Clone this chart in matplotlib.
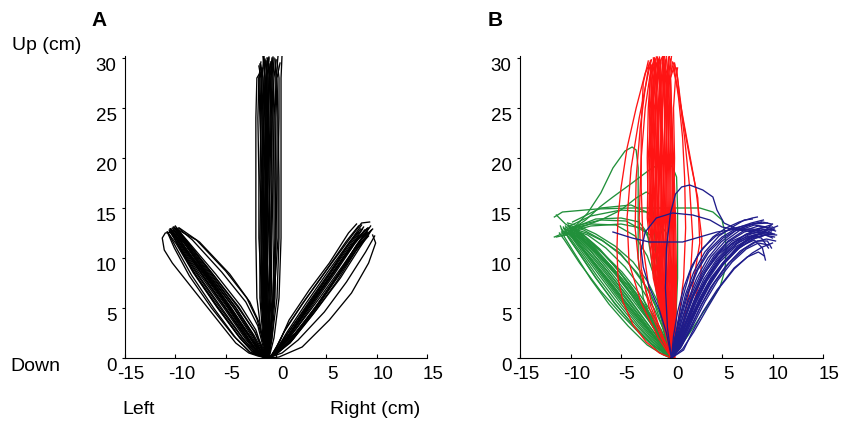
import matplotlib
matplotlib.use("Agg")
import matplotlib.pyplot as plt
from matplotlib.transforms import ScaledTranslation

plt.rcParams["font.family"] = ["Liberation Sans", "DejaVu Sans"]
plt.rcParams["axes.unicode_minus"] = False

# hand trajectories in cm, (x, y) waypoints
x_ticks = [-15, -10, -5, 0, 5, 10, 15]
y_ticks = [0, 5, 10, 15, 20, 25, 30]

# --- panel A: all reaches in black ---
up_levels = [0, 2, 6, 12, 18, 24, 28]
up_a_x = [
    [-0.9, -1.0, -1.1, -1.0, -0.9, -0.8, -0.8, -0.7],
    [-0.8, -0.7, -0.5, -0.4, -0.3, -0.3, -0.4, -0.5],
    [-0.9, -1.2, -1.4, -1.5, -1.4, -1.3, -1.2, -1.1],
    [-0.8, -0.6, -0.2, 0.0, 0.1, 0.1, 0.0, 0.2],
    [-0.9, -1.1, -1.3, -1.2, -1.0, -1.1, -1.3, -1.5],
    [-0.8, -0.8, -0.7, -0.6, -0.7, -0.6, -0.5, -0.3],
    [-0.9, -1.3, -1.6, -1.6, -1.5, -1.5, -1.6, -1.4],
    [-0.7, -0.4, 0.1, 0.3, 0.3, 0.2, 0.1, 0.4],
    [-0.9, -1.0, -0.9, -0.8, -0.6, -0.5, -0.6, -0.9],
    [-0.8, -0.9, -1.0, -1.1, -1.2, -1.0, -0.9, -1.0],
    [-0.9, -1.4, -1.9, -2.0, -2.0, -2.0, -1.9, -1.6],
    [-0.7, -0.2, 0.3, 0.5, 0.5, 0.5, 0.5, 0.6],
    [-0.8, -0.7, -0.8, -0.9, -0.8, -0.7, -0.7, -0.6],
    [-0.9, -1.1, -1.2, -1.3, -1.2, -1.2, -1.1, -1.2],
    [-0.8, -0.5, -0.3, -0.2, -0.2, -0.3, -0.2, 0.0],
    [-0.9, -1.2, -1.5, -1.4, -1.3, -1.4, -1.5, -1.7],
    [-0.8, -0.9, -0.6, -0.5, -0.5, -0.4, -0.6, -0.8],
    [-0.9, -1.0, -1.2, -1.0, -1.1, -0.9, -1.0, -0.8],
    [-0.8, -0.6, -0.4, -0.6, -0.7, -0.8, -0.7, -0.5],
    [-0.9, -1.2, -1.3, -1.2, -1.4, -1.6, -1.7, -1.3],
    [-0.8, -0.4, -0.1, 0.0, -0.1, -0.1, 0.0, -0.1],
    [-0.9, -0.8, -1.0, -0.9, -0.9, -1.0, -1.1, -1.3],
    [-0.8, -0.9, -1.1, -1.3, -1.3, -1.2, -1.0, -0.9],
    [-0.9, -0.7, -0.6, -0.7, -0.9, -1.0, -0.9, -0.7],
    [-0.8, -1.0, -1.3, -1.4, -1.6, -1.5, -1.4, -1.6],
    [-0.9, -0.6, -0.3, -0.1, 0.0, -0.1, -0.3, -0.2],
    [-0.8, -1.1, -1.2, -1.1, -0.9, -0.8, -0.9, -1.1],
    [-0.9, -0.8, -0.8, -0.5, -0.4, -0.5, -0.4, -0.3],
    [-0.8, -1.2, -1.4, -1.7, -1.7, -1.8, -1.7, -1.5],
    [-0.7, -0.5, -0.2, 0.2, 0.2, 0.3, 0.3, 0.1],
    [-0.9, -1.0, -1.0, -0.9, -1.0, -1.3, -1.4, -1.2],
    [-0.8, -0.7, -0.9, -1.1, -1.0, -0.8, -0.6, -0.4],
]
up_a_top = [30.0, 29.6, 29.8, 30.2, 29.3, 30.1, 28.9, 29.5, 30.0, 29.7, 28.5,
            30.3, 29.4, 30.1, 29.8, 29.2, 29.9, 30.0, 29.6, 29.0, 29.9, 30.2,
            29.7, 30.1, 29.4, 30.0, 29.9, 29.5, 29.6, 29.8, 30.2, 30.0]

left_a = [
    [(-0.9, 0), (-1.8, 0.6), (-2.8, 2.0), (-4.8, 5.0), (-7.2, 8.4), (-9.3, 11.4), (-10.4, 12.9)],
    [(-0.8, 0), (-1.5, 0.8), (-2.3, 2.2), (-4.0, 4.8), (-6.6, 8.3), (-9.0, 11.6), (-10.0, 12.9)],
    [(-0.9, 0), (-2.0, 0.5), (-3.2, 1.8), (-5.4, 4.8), (-7.8, 8.3), (-9.6, 11.2), (-10.6, 12.7)],
    [(-0.8, 0), (-1.4, 1.0), (-2.0, 2.8), (-3.5, 5.2), (-6.0, 8.4), (-8.7, 11.6), (-9.9, 13.0)],
    [(-1.0, 0), (-2.3, 0.6), (-3.6, 2.0), (-5.8, 5.0), (-8.2, 8.5), (-9.9, 11.4), (-10.8, 12.6)],
    [(-0.8, 0), (-1.3, 1.2), (-1.8, 3.2), (-3.0, 5.6), (-5.4, 8.6), (-8.3, 11.8), (-9.7, 13.0)],
    [(-0.9, 0), (-1.7, 0.7), (-2.6, 2.2), (-4.4, 4.9), (-6.9, 8.4), (-9.1, 11.5), (-10.2, 12.8)],
    [(-0.8, 0), (-1.6, 0.9), (-2.4, 2.5), (-4.1, 5.2), (-6.5, 8.5), (-8.9, 11.7), (-10.1, 13.1)],
    [(-1.0, 0), (-2.1, 0.6), (-3.3, 2.0), (-5.2, 4.7), (-7.5, 8.0), (-9.5, 11.2), (-10.5, 12.9)],
    [(-0.8, 0), (-1.2, 1.4), (-1.9, 3.9), (-2.9, 6.0), (-5.0, 8.7), (-7.9, 11.8), (-9.9, 12.9)],
    [(-1.0, 0), (-2.5, 0.5), (-4.0, 2.0), (-6.2, 5.0), (-8.4, 8.3), (-9.9, 11.0), (-10.7, 12.5)],
    [(-0.9, 0), (-1.9, 0.7), (-3.0, 2.1), (-5.0, 5.0), (-7.4, 8.5), (-9.4, 11.6), (-10.3, 12.6)],
    [(-0.8, 0), (-1.5, 0.7), (-2.5, 2.0), (-4.6, 5.0), (-7.0, 8.2), (-9.0, 11.0), (-10.0, 12.6)],
    [(-0.9, 0), (-1.8, 0.2), (-2.7, 0.5), (-4.0, 1.5), (-7.0, 5.3), (-10.3, 9.5),
     (-11.1, 10.8), (-11.3, 12.0), (-11.0, 12.5), (-10.3, 12.6)],
    [(-0.8, 0), (-1.4, 0.9), (-2.1, 2.6), (-3.7, 5.1), (-6.2, 8.3), (-8.6, 11.3), (-9.8, 12.7)],
    [(-0.9, 0), (-2.0, 0.8), (-3.0, 2.4), (-4.9, 5.3), (-7.1, 8.6), (-9.2, 11.8), (-10.2, 13.1)],
    [(-0.9, 0), (-1.7, 0.5), (-2.7, 1.7), (-4.7, 4.6), (-7.1, 8.0), (-9.2, 11.1), (-10.4, 12.6)],
    [(-0.8, 0), (-1.5, 0.6), (-2.4, 1.9), (-4.3, 4.6), (-6.8, 8.1), (-9.0, 11.3), (-10.1, 12.7)],
    [(-0.9, 0), (-1.9, 0.6), (-2.9, 1.9), (-4.9, 4.8), (-7.3, 8.2), (-9.4, 11.3), (-10.5, 12.9)],
    [(-0.8, 0), (-1.3, 1.0), (-2.1, 2.6), (-3.8, 5.1), (-6.3, 8.4), (-8.8, 11.6), (-10.0, 13.2)],
    [(-1.0, 0), (-2.2, 0.5), (-3.4, 1.8), (-5.5, 4.7), (-7.9, 8.2), (-9.7, 11.3), (-10.6, 12.8)],
    [(-0.8, 0), (-1.6, 0.8), (-2.5, 2.3), (-4.2, 5.0), (-6.7, 8.3), (-9.0, 11.4), (-10.2, 12.9)],
    [(-0.9, 0), (-1.8, 0.8), (-2.7, 2.3), (-4.5, 5.1), (-6.9, 8.5), (-9.1, 11.6), (-10.3, 13.0)],
    [(-0.9, 0), (-2.0, 0.6), (-3.1, 2.0), (-5.1, 4.9), (-7.6, 8.4), (-9.6, 11.5), (-10.4, 12.8)],
    [(-0.8, 0), (-1.4, 0.8), (-2.2, 2.3), (-3.9, 4.9), (-6.4, 8.2), (-8.8, 11.4), (-9.9, 12.8)],
    [(-0.9, 0), (-1.7, 0.6), (-2.6, 2.0), (-4.5, 4.8), (-7.0, 8.3), (-9.2, 11.3), (-10.3, 12.7)],
    [(-1.0, 0), (-2.6, 0.6), (-4.2, 2.2), (-6.4, 5.0), (-8.6, 8.2), (-10.1, 11.0), (-10.8, 12.6)],
    [(-0.8, 0), (-1.2, 1.6), (-1.7, 3.6), (-2.6, 5.6), (-4.6, 8.4), (-7.6, 11.6), (-9.6, 13.0)],
    [(-0.9, 0), (-2.4, 0.7), (-3.8, 2.3), (-6.0, 5.3), (-8.2, 8.6), (-9.8, 11.4), (-10.5, 12.9)],
]

right_a = [
    [(-0.7, 0), (0.0, 0.6), (1.2, 2.0), (3.3, 5.0), (5.6, 8.3), (7.6, 11.2), (8.8, 12.8)],
    [(-0.6, 0), (0.3, 0.9), (1.5, 2.6), (3.6, 5.6), (5.8, 8.8), (7.8, 11.6), (9.0, 12.6)],
    [(-0.7, 0), (0.1, 0.5), (1.6, 1.8), (4.0, 4.8), (6.4, 8.0), (8.3, 11.0), (9.3, 12.5)],
    [(-0.6, 0), (0.0, 1.0), (0.8, 2.6), (2.6, 5.4), (4.8, 8.5), (7.0, 11.7), (8.2, 13.2)],
    [(-0.8, 0), (0.6, 0.5), (2.2, 1.8), (4.8, 4.6), (7.0, 7.6), (8.9, 10.6), (9.8, 12.2)],
    [(-0.6, 0), (0.3, 1.5), (1.3, 3.8), (3.3, 6.8), (5.3, 9.5), (7.2, 12.5), (8.0, 13.4)],
    [(-0.7, 0), (0.3, 0.1), (2.6, 1.1), (5.3, 3.8), (7.5, 6.5), (9.2, 9.5), (9.9, 11.5), (9.6, 12.3)],
    [(-0.7, 0), (0.1, 0.7), (1.3, 2.3), (3.4, 5.3), (5.6, 8.4), (7.5, 11.2), (8.6, 12.9)],
    [(-0.6, 0), (0.2, 0.8), (1.9, 2.5), (4.2, 5.4), (6.3, 8.5), (8.0, 11.3), (9.2, 13.0)],
    [(-0.7, 0), (0.0, 0.4), (1.4, 1.5), (3.7, 4.4), (6.0, 7.6), (8.0, 10.8), (9.5, 12.8)],
    [(-0.6, 0), (0.1, 1.2), (1.0, 3.0), (2.9, 5.8), (5.1, 8.9), (7.3, 11.9), (8.5, 13.5), (9.3, 13.6)],
    [(-0.7, 0), (0.2, 0.6), (1.7, 2.0), (3.9, 5.0), (6.1, 8.2), (7.9, 11.0), (9.0, 12.2)],
    [(-0.6, 0), (0.4, 1.0), (2.0, 2.9), (4.4, 6.1), (6.6, 9.2), (8.4, 11.8), (9.6, 12.9)],
    [(-0.7, 0), (0.0, 0.8), (1.1, 2.4), (3.1, 5.2), (5.3, 8.4), (7.2, 11.3), (8.2, 12.6)],
    [(-0.7, 0), (0.1, 0.6), (1.4, 2.1), (3.5, 5.1), (5.8, 8.4), (7.8, 11.4), (9.0, 12.9)],
    [(-0.6, 0), (0.2, 0.8), (1.3, 2.4), (3.3, 5.4), (5.5, 8.6), (7.5, 11.5), (8.7, 13.1)],
    [(-0.7, 0), (0.2, 0.5), (1.7, 1.9), (4.0, 5.0), (6.2, 8.2), (8.1, 11.0), (9.2, 12.2)],
    [(-0.6, 0), (0.1, 0.9), (1.1, 2.6), (3.0, 5.5), (5.2, 8.7), (7.3, 11.6), (8.4, 12.9)],
    [(-0.7, 0), (0.3, 0.7), (1.8, 2.2), (4.1, 5.2), (6.3, 8.4), (8.2, 11.2), (9.4, 12.7)],
    [(-0.7, 0), (0.0, 0.7), (1.2, 2.2), (3.2, 5.1), (5.5, 8.3), (7.5, 11.3), (8.6, 12.5)],
    [(-0.6, 0), (0.4, 0.8), (1.9, 2.4), (4.2, 5.5), (6.4, 8.7), (8.3, 11.6), (9.4, 13.2)],
    [(-0.7, 0), (0.1, 0.8), (1.2, 2.5), (3.2, 5.5), (5.4, 8.7), (7.4, 11.7), (8.5, 13.3)],
    [(-0.6, 0), (0.2, 0.6), (1.6, 2.0), (3.8, 4.9), (6.0, 8.1), (7.9, 11.1), (9.1, 12.6)],
    [(-0.7, 0), (0.3, 1.0), (1.6, 2.8), (3.7, 5.8), (5.9, 8.9), (7.9, 11.8), (9.1, 13.0)],
]

# --- panel B: up (red), left (green), right (blue) ---
red_levels = [0, 3, 8, 14, 20, 25, 28]
red_core_x = [
    [0.0, -0.5, -1.2, -1.6, -1.5, -1.3, -1.2, -1.0],
    [0.1, -0.3, -0.8, -1.0, -1.0, -0.9, -0.8, -0.6],
    [0.2, 0.0, -0.3, -0.4, -0.5, -0.5, -0.4, -0.2],
    [0.0, -0.6, -1.6, -2.1, -2.0, -1.8, -1.6, -1.5],
    [0.2, 0.2, 0.1, 0.0, -0.1, -0.2, -0.3, -0.1],
    [0.1, -0.4, -1.0, -1.3, -1.3, -1.2, -1.1, -1.2],
    [0.0, -0.7, -1.8, -2.4, -2.3, -2.0, -1.8, -1.9],
    [0.3, 0.4, 0.5, 0.4, 0.2, 0.0, -0.1, 0.1],
    [0.1, -0.2, -0.6, -0.8, -0.7, -0.7, -0.8, -0.9],
    [0.0, -0.5, -1.4, -1.9, -1.7, -1.5, -1.4, -1.3],
    [0.2, 0.1, -0.1, -0.2, -0.3, -0.3, -0.5, -0.6],
    [0.1, -0.3, -0.9, -1.1, -1.2, -1.4, -1.6, -1.8],
    [0.0, -0.6, -1.3, -1.7, -1.9, -1.7, -1.3, -1.1],
    [0.2, 0.3, 0.3, 0.2, 0.0, -0.2, -0.4, -0.3],
    [0.1, -0.4, -1.1, -1.4, -1.5, -1.6, -1.4, -1.2],
    [0.0, -0.2, -0.5, -0.6, -0.9, -1.1, -1.2, -1.4],
    [0.2, 0.0, -0.4, -0.7, -0.8, -1.0, -0.9, -0.7],
    [0.1, -0.5, -1.5, -2.0, -2.2, -2.1, -1.9, -1.7],
    [0.3, 0.3, 0.2, 0.2, 0.3, 0.2, 0.4, 0.6],
    [0.0, -0.3, -0.7, -0.9, -0.8, -0.6, -0.5, -0.8],
    [0.1, -0.6, -1.7, -2.2, -2.1, -1.9, -1.7, -1.6],
    [0.2, -0.1, -0.5, -1.0, -1.1, -1.0, -1.1, -1.4],
    [0.0, -0.4, -1.2, -1.8, -2.0, -2.2, -2.1, -2.0],
    [0.3, 0.1, 0.0, -0.3, -0.4, -0.6, -0.7, -0.4],
    [0.1, -0.4, -1.3, -1.6, -1.8, -1.6, -1.5, -1.3],
    [0.2, 0.0, -0.2, -0.1, -0.2, -0.4, -0.6, -0.8],
    [0.0, -0.6, -1.5, -2.3, -2.4, -2.3, -2.1, -1.8],
    [0.1, -0.2, -0.8, -1.2, -1.4, -1.3, -1.0, -0.8],
    [0.3, 0.2, 0.0, 0.1, 0.1, 0.0, -0.1, 0.3],
    [0.0, -0.5, -1.1, -1.5, -1.6, -1.8, -1.7, -1.5],
    [0.2, -0.2, -0.6, -0.9, -1.0, -1.1, -1.0, -1.1],
    [0.1, -0.3, -1.0, -1.4, -1.1, -0.9, -0.7, -0.5],
    [0.0, -0.7, -1.6, -2.0, -1.9, -2.0, -2.0, -2.1],
    [0.2, 0.1, -0.2, -0.5, -0.6, -0.7, -0.7, -0.9],
    [0.1, -0.4, -1.2, -1.7, -1.5, -1.4, -1.5, -1.7],
    [0.3, 0.4, 0.4, 0.3, 0.1, -0.1, -0.2, 0.0],
    [0.0, -0.3, -0.9, -1.3, -1.6, -1.9, -1.8, -1.4],
    [0.2, -0.1, -0.4, -0.6, -0.5, -0.4, -0.3, -0.5],
]
red_core_top = [30.0, 29.8, 30.2, 29.5, 29.9, 30.1, 29.2, 29.6, 30.3, 29.8, 29.7, 30.0,
                29.4, 30.1, 28.8, 29.9, 30.2, 29.6, 29.0, 29.5, 29.9, 30.1, 29.3, 28.9,
                29.9, 30.2, 29.4, 30.0, 29.3, 30.1, 29.8, 30.3, 29.7, 29.5, 30.0, 30.2,
                29.6, 29.9]

red_wide = [
    [(0, 0), (-1.2, 0.5), (-2.5, 1.6), (-3.8, 3.3), (-4.8, 5.6), (-5.3, 8.0), (-5.4, 11.0),
     (-5.3, 14.0), (-5.0, 17.0), (-4.4, 21.0), (-3.5, 25.0), (-2.6, 28.5), (-2.0, 29.8)],
    [(0, 0), (-1.0, 2.0), (-2.2, 5.0), (-3.0, 9.0), (-3.2, 14.0), (-3.0, 20.0), (-2.6, 25.0),
     (-2.1, 28.5), (-1.7, 30.0)],
    [(0.1, 0), (-0.8, 2.0), (-2.0, 5.0), (-3.2, 9.0), (-3.6, 13.0), (-3.5, 18.0), (-3.1, 23.0),
     (-2.6, 27.0), (-2.2, 29.5)],
    [(0, 0), (-1.3, 2.0), (-3.0, 5.5), (-4.2, 9.5), (-4.4, 14.0), (-4.0, 19.0), (-3.2, 24.0),
     (-2.4, 28.0), (-2.0, 29.8)],
    [(0, 0), (-0.9, 2.0), (-2.1, 6.0), (-2.8, 11.0), (-3.0, 17.0), (-3.0, 23.0), (-2.8, 27.5),
     (-2.3, 29.7)],
    [(0.2, 0), (1.0, 2.5), (1.8, 7.0), (2.1, 12.0), (1.8, 17.0), (1.3, 22.0), (0.8, 26.0), (0.5, 29.0)],
    [(0.2, 0), (0.6, 3.0), (1.2, 8.0), (1.4, 13.0), (1.3, 18.0), (1.1, 22.0), (0.7, 26.0), (0.2, 29.5)],
    [(0, 0), (0.8, 2.0), (1.9, 6.0), (2.8, 11.5), (2.6, 16.0), (1.8, 20.0), (1.1, 24.0),
     (0.6, 28.0), (0.3, 29.5)],
    [(0.2, 0), (1.5, 3.0), (2.9, 8.0), (3.0, 12.0), (2.4, 17.0), (1.5, 22.0), (0.6, 27.0), (0.1, 29.2)],
]

green = [
    [(0, 0), (-0.3, 0.1), (-1.2, 0.6), (-3.2, 2.5), (-5.1, 4.5), (-7.1, 6.8), (-9.1, 9.5), (-10.6, 11.8), (-11.1, 12.5)],
    [(0, 0), (-0.3, 1.0), (-0.9, 3.1), (-1.6, 5.2), (-2.5, 7.1), (-3.8, 8.9), (-5.1, 10.5), (-6.8, 11.7), (-8.4, 12.5), (-9.6, 12.9)],
    [(0, 0), (-0.5, 0.6), (-1.5, 1.8), (-2.9, 3.6), (-4.5, 5.6), (-6.2, 7.8), (-8.0, 10.0), (-9.6, 11.9), (-10.4, 12.6)],
    [(0, 0), (-0.4, 0.8), (-1.3, 2.3), (-2.5, 4.2), (-3.9, 6.2), (-5.6, 8.4), (-7.4, 10.4), (-9.0, 12.0), (-10.0, 12.8)],
    [(0, 0), (-0.6, 0.5), (-1.8, 1.6), (-3.4, 3.4), (-5.0, 5.4), (-6.8, 7.8), (-8.5, 10.1), (-9.9, 12.1), (-10.7, 13.0)],
    [(0, 0), (-0.3, 1.2), (-1.0, 2.8), (-2.0, 4.6), (-3.3, 6.6), (-4.9, 8.6), (-6.7, 10.4), (-8.4, 11.8), (-9.8, 12.6)],
    [(0, 0), (-0.5, 0.7), (-1.6, 2.0), (-3.0, 3.9), (-4.6, 6.0), (-6.4, 8.3), (-8.2, 10.5), (-9.7, 12.2), (-10.2, 13.3)],
    [(0, 0), (-0.4, 0.9), (-1.2, 2.5), (-2.3, 4.5), (-3.7, 6.6), (-5.3, 8.8), (-7.1, 10.9), (-8.8, 12.4), (-10.1, 13.1)],
    [(0, 0), (-0.7, 0.4), (-2.1, 1.5), (-3.9, 3.4), (-5.7, 5.6), (-7.5, 8.0), (-9.1, 10.4), (-10.3, 12.2), (-10.9, 12.9)],
    [(0, 0), (-0.2, 1.5), (-0.7, 3.6), (-1.4, 5.7), (-2.4, 7.7), (-3.8, 9.6), (-5.6, 11.2), (-7.5, 12.4), (-9.2, 13.2), (-10.3, 13.5)],
    [(0, 0), (-0.5, 1.0), (-1.5, 2.6), (-2.8, 4.6), (-4.3, 6.8), (-6.0, 9.0), (-7.8, 11.0), (-9.3, 12.4), (-10.6, 12.9)],
    [(0, 0), (-0.6, 0.6), (-1.9, 1.9), (-3.6, 3.9), (-5.4, 6.2), (-7.2, 8.6), (-8.9, 10.9), (-10.1, 12.4), (-11.4, 12.1)],
    [(0, 0), (-0.3, 0.9), (-1.1, 2.2), (-2.2, 4.0), (-3.6, 6.0), (-5.3, 8.2), (-7.1, 10.2), (-8.9, 11.9), (-10.4, 12.6), (-11.6, 12.1)],
    [(0, 0), (-0.4, 1.3), (-1.3, 3.0), (-2.6, 5.1), (-4.1, 7.3), (-5.9, 9.5), (-7.7, 11.4), (-9.3, 12.7), (-10.5, 13.4), (-11.4, 14.3)],
    [(0, 0), (-0.6, 0.9), (-1.8, 2.4), (-3.3, 4.4), (-5.0, 6.7), (-6.8, 9.0), (-8.5, 11.0), (-9.9, 12.5), (-10.8, 12.2)],
    [(0, 0), (-0.2, 1.0), (-0.6, 2.6), (-1.2, 4.5), (-2.1, 6.5), (-3.4, 8.5), (-5.0, 10.3), (-6.9, 11.8), (-8.7, 12.8), (-9.9, 13.2)],
    [(0, 0), (-0.8, 0.3), (-2.4, 1.3), (-4.3, 3.2), (-6.2, 5.4), (-8.0, 7.9), (-9.5, 10.3), (-10.6, 12.1), (-11.0, 13.2)],
    [(0, 0), (-0.5, 1.1), (-1.4, 2.9), (-2.7, 5.0), (-4.2, 7.1), (-6.0, 9.2), (-7.9, 11.1), (-9.5, 12.5), (-10.3, 12.3)],
    [(0, 0), (-0.5, 0.8), (-1.5, 2.2), (-2.9, 4.1), (-4.5, 6.3), (-6.3, 8.6), (-8.1, 10.8), (-9.6, 12.3), (-10.5, 12.9)],
    [(0, 0), (-0.4, 0.6), (-1.4, 1.8), (-3.0, 3.7), (-4.8, 5.9), (-6.6, 8.2), (-8.4, 10.5), (-9.8, 12.2), (-10.6, 12.6)],
    [(0, 0), (-0.3, 1.1), (-1.0, 2.6), (-2.1, 4.4), (-3.5, 6.5), (-5.2, 8.7), (-7.0, 10.7), (-8.7, 12.2), (-9.9, 12.9)],
    [(0, 0), (-0.6, 0.7), (-1.7, 2.0), (-3.2, 3.8), (-4.9, 5.9), (-6.7, 8.2), (-8.5, 10.5), (-9.9, 12.3), (-10.8, 12.7)],
    [(0, 0), (-0.4, 1.0), (-1.2, 2.4), (-2.4, 4.3), (-3.9, 6.4), (-5.6, 8.6), (-7.4, 10.7), (-9.0, 12.3), (-10.2, 13.0)],
    [(0, 0), (-0.7, 0.5), (-2.0, 1.7), (-3.7, 3.5), (-5.5, 5.7), (-7.3, 8.1), (-8.9, 10.4), (-10.1, 12.1), (-10.9, 12.6)],
    [(0, 0), (-0.3, 0.8), (-1.1, 2.1), (-2.4, 3.9), (-4.0, 6.0), (-5.8, 8.3), (-7.6, 10.5), (-9.2, 12.1), (-10.4, 12.8)],
    [(0, 0), (-0.5, 1.2), (-1.4, 2.8), (-2.6, 4.7), (-4.0, 6.8), (-5.7, 8.9), (-7.5, 10.9), (-9.1, 12.4), (-10.1, 13.2)],
    [(0, 0), (-0.6, 0.4), (-1.9, 1.4), (-3.7, 3.2), (-5.6, 5.4), (-7.4, 7.9), (-9.0, 10.3), (-10.2, 12.0), (-10.7, 13.1)],
    [(0, 0), (-0.4, 0.7), (-1.3, 2.0), (-2.7, 3.9), (-4.3, 6.1), (-6.1, 8.4), (-7.9, 10.6), (-9.4, 12.2), (-10.3, 12.5)],
    [(0, 0), (-0.2, 1.2), (-0.8, 2.9), (-1.7, 4.9), (-3.0, 7.0), (-4.6, 9.1), (-6.5, 11.0), (-8.3, 12.3), (-9.7, 12.8)],
    [(0, 0), (-0.5, 0.5), (-1.6, 1.7), (-3.1, 3.5), (-4.8, 5.6), (-6.6, 8.0), (-8.3, 10.3), (-9.7, 12.1), (-10.5, 13.2)],
    [(0, 0), (-0.3, 3.0), (-0.8, 7.0), (-1.5, 10.5), (-2.6, 12.6), (-4.5, 13.7), (-7.0, 13.8), (-9.5, 13.2)],
    [(0, 0), (-0.5, 3.0), (-1.3, 7.0), (-2.4, 10.2), (-3.6, 12.2), (-5.5, 13.3), (-8.0, 13.4), (-10.2, 12.9)],
    [(0, 0), (0.2, 4.0), (0.1, 9.0), (-0.5, 12.5), (-1.8, 14.3), (-4.0, 15.3), (-7.0, 15.0), (-9.8, 13.6)],
    # reaches that wandered before settling on the left target
    [(0, 0), (-1.5, 2.5), (-2.8, 6.0), (-3.3, 10.0), (-3.3, 15.0), (-3.3, 19.0), (-3.5, 20.8), (-3.9, 21.1),
     (-4.6, 20.7), (-5.8, 19.0), (-7.0, 16.5), (-8.3, 14.5), (-9.5, 13.2), (-10.2, 12.7)],
    [(0, 0), (0.4, 3.0), (0.6, 8.0), (0.6, 12.0), (0.6, 15.0), (0.5, 18.1), (0.1, 19.1), (-0.5, 19.6),
     (-1.2, 19.4), (-2.2, 18.8), (-3.9, 17.5), (-5.8, 16.1), (-7.1, 15.1), (-8.5, 13.8), (-9.8, 12.9)],
    [(0, 0), (-0.6, 3.0), (-1.2, 7.0), (-1.6, 11.0), (-1.8, 14.5), (-2.0, 16.3), (-2.5, 16.6), (-3.5, 16.0),
     (-5.0, 14.8), (-6.8, 13.9), (-8.6, 13.2), (-10.0, 12.8)],
    [(0, 0), (0.8, 1.1), (1.6, 2.2), (3.1, 4.5), (4.8, 7.1), (5.3, 8.8), (5.4, 10.8), (5.3, 12.5), (5.0, 13.8),
     (4.1, 14.6), (2.8, 15.0), (0.5, 15.0), (-2.2, 15.0), (-4.0, 15.0), (-7.4, 14.9), (-10.8, 14.6), (-11.6, 14.1)],
    [(0, 0), (-0.2, 3.0), (-0.4, 7.0), (-0.6, 11.0), (-1.2, 13.5), (-2.5, 14.6), (-5.0, 14.8), (-8.0, 14.2), (-10.5, 13.0)],
    [(0, 0), (-0.3, 2.0), (-0.8, 6.0), (-1.3, 10.0), (-2.0, 12.2), (-3.0, 13.0), (-5.0, 13.4), (-8.0, 13.2), (-10.8, 12.4)],
    [(0, 0), (-0.6, 2.0), (-1.4, 6.0), (-2.0, 10.0), (-2.4, 12.5), (-3.2, 13.6), (-5.0, 14.0), (-7.5, 13.9), (-9.8, 13.0)],
]

blue = [
    [(0, 0), (0.3, 1.5), (0.6, 3.5), (1.1, 6.0), (1.8, 8.5), (2.6, 10.3), (4.1, 12.1), (5.4, 13.0), (6.7, 13.6), (8.0, 14.0), (8.5, 14.1)],
    [(0, 0), (1.2, 0.8), (2.0, 2.5), (3.1, 4.6), (4.5, 6.8), (6.2, 9.0), (8.0, 10.5), (9.0, 11.1), (10.0, 11.5)],
    [(0, 0), (0.5, 1.5), (1.2, 3.5), (2.0, 5.8), (3.0, 8.0), (4.2, 10.0), (5.6, 11.6), (7.2, 12.6), (8.8, 13.0), (10.0, 13.1)],
    [(0, 0), (0.7, 1.2), (1.5, 3.2), (2.4, 5.5), (3.5, 7.7), (4.8, 9.6), (6.3, 11.1), (7.8, 12.0), (9.2, 12.3), (10.2, 12.1)],
    [(0, 0), (0.4, 1.8), (1.0, 4.2), (1.7, 6.6), (2.6, 8.8), (3.7, 10.6), (5.1, 12.0), (6.6, 12.9), (8.1, 13.4), (9.5, 13.5)],
    [(0, 0), (0.9, 1.0), (1.8, 2.8), (2.8, 5.0), (3.9, 7.1), (5.3, 9.1), (6.8, 10.7), (8.2, 11.6), (9.4, 11.9), (10.3, 11.7)],
    [(0, 0), (0.6, 1.6), (1.3, 3.8), (2.2, 6.2), (3.3, 8.5), (4.6, 10.4), (6.0, 11.7), (7.6, 12.4), (9.0, 12.6), (10.5, 13.2)],
    [(0, 0), (0.8, 1.3), (1.7, 3.4), (2.7, 5.8), (3.9, 8.0), (5.3, 9.8), (6.9, 11.2), (8.2, 11.8), (9.0, 11.0), (9.3, 9.8)],
    [(0, 0), (0.5, 1.2), (1.2, 3.0), (2.1, 5.3), (3.2, 7.6), (4.5, 9.7), (5.9, 11.3), (7.3, 12.3), (8.6, 12.9), (9.8, 13.3)],
    [(0, 0), (1.0, 1.2), (2.1, 3.2), (3.3, 5.6), (4.6, 7.8), (6.0, 9.6), (7.4, 10.9), (8.6, 11.5), (9.6, 11.3)],
    [(0, 0), (0.4, 1.4), (0.9, 3.4), (1.6, 5.7), (2.5, 8.0), (3.6, 10.0), (4.9, 11.6), (6.3, 12.7), (7.7, 13.3), (9.0, 13.6), (9.9, 13.4)],
    [(0, 0), (0.7, 1.0), (1.6, 2.8), (2.6, 5.0), (3.8, 7.3), (5.1, 9.3), (6.6, 10.9), (8.0, 11.9), (9.0, 12.2), (9.9, 12.6)],
    [(0, 0), (0.6, 2.0), (1.4, 4.4), (2.3, 6.7), (3.4, 8.7), (4.7, 10.4), (6.2, 11.6), (7.7, 12.2), (8.9, 12.0), (9.6, 11.0)],
    [(0, 0), (0.3, 1.8), (0.8, 4.0), (1.4, 6.4), (2.2, 8.6), (3.3, 10.6), (4.7, 12.2), (6.2, 13.2), (7.2, 13.8), (8.0, 13.9)],
    [(0, 0), (0.9, 1.5), (1.9, 3.7), (3.0, 6.0), (4.2, 8.2), (5.6, 10.1), (7.1, 11.5), (8.5, 12.3), (9.7, 12.9), (10.3, 12.7)],
    [(0, 0), (0.5, 1.0), (1.3, 2.6), (2.3, 4.7), (3.5, 7.0), (4.9, 9.2), (6.4, 11.0), (7.8, 12.1), (9.1, 12.6), (10.2, 12.4)],
    [(0, 0), (0.2, 2.2), (0.6, 4.6), (1.2, 7.0), (2.0, 9.2), (3.1, 11.0), (4.4, 12.2), (5.9, 12.9), (7.5, 13.3), (8.9, 13.6)],
    [(0, 0), (1.1, 0.9), (2.2, 2.6), (3.5, 4.9), (4.8, 7.1), (6.2, 8.9), (7.5, 10.1), (8.6, 10.6), (9.2, 10.2)],
    [(0, 0), (0.6, 1.3), (1.4, 3.3), (2.3, 5.6), (3.4, 7.8), (4.7, 9.8), (6.1, 11.3), (7.6, 12.3), (9.0, 12.8), (10.1, 12.9)],
    [(0, 0), (0.5, 1.6), (1.2, 3.8), (2.0, 6.1), (3.0, 8.3), (4.2, 10.2), (5.6, 11.7), (7.1, 12.7), (8.6, 13.2), (9.6, 13.0)],
    [(0, 0), (0.8, 1.1), (1.7, 3.0), (2.7, 5.3), (3.8, 7.5), (5.2, 9.5), (6.7, 11.0), (8.1, 11.9), (9.3, 12.3), (10.0, 12.0)],
    [(0, 0), (0.4, 1.6), (1.0, 3.7), (1.8, 6.0), (2.8, 8.2), (3.9, 10.1), (5.3, 11.7), (6.8, 12.8), (8.2, 13.3), (9.4, 13.1)],
    [(0, 0), (0.7, 1.4), (1.5, 3.5), (2.5, 5.8), (3.6, 8.0), (4.9, 9.9), (6.4, 11.4), (7.9, 12.2), (9.1, 12.4), (10.4, 12.3)],
    [(0, 0), (0.6, 1.1), (1.4, 2.9), (2.4, 5.1), (3.6, 7.4), (5.0, 9.4), (6.5, 11.0), (7.9, 12.0), (9.2, 12.7), (10.0, 13.4)],
    [(0, 0), (0.3, 1.9), (0.9, 4.2), (1.6, 6.6), (2.5, 8.8), (3.6, 10.7), (5.0, 12.1), (6.5, 13.0), (7.9, 13.5), (9.1, 13.8)],
    [(0, 0), (0.9, 1.2), (1.9, 3.1), (3.0, 5.4), (4.3, 7.6), (5.7, 9.5), (7.2, 10.9), (8.5, 11.7), (9.5, 11.7), (9.9, 11.0)],
    [(0, 0), (0.5, 1.4), (1.3, 3.4), (2.2, 5.7), (3.2, 7.9), (4.5, 9.9), (5.9, 11.4), (7.4, 12.4), (8.8, 12.9), (9.7, 12.8)],
    [(0, 0), (0.7, 1.7), (1.6, 4.0), (2.6, 6.4), (3.8, 8.5), (5.2, 10.3), (6.7, 11.6), (8.1, 12.3), (9.3, 12.5), (10.2, 12.9)],
    # detours
    [(0, 0), (-0.4, 3.0), (-0.6, 7.0), (-0.5, 11.0), (-0.1, 14.5), (0.4, 16.4), (1.0, 17.1), (1.8, 17.3),
     (3.1, 16.8), (4.1, 16.1), (4.5, 14.8), (5.2, 13.5), (6.5, 12.9), (8.0, 12.9), (9.4, 12.6)],
    [(0, 0), (-0.5, 2.5), (-1.2, 4.8), (-2.2, 7.1), (-2.8, 9.1), (-3.0, 10.8), (-2.6, 12.6), (-1.5, 14.0),
     (0.1, 14.5), (2.1, 14.3), (3.8, 13.8), (5.0, 13.1), (6.5, 12.8), (8.2, 12.6), (9.6, 12.5)],
    [(-5.8, 12.6), (-3.9, 12.0), (-2.2, 11.6), (-0.2, 11.6), (1.1, 11.6), (2.8, 12.1), (4.5, 12.6),
     (6.5, 12.9), (8.8, 12.7)],
]

BLACK = "black"
RED = "#ff1414"
GREEN = "#21903a"
BLUE = "#1f1c8a"

fig = plt.figure(figsize=(8.43, 4.23), dpi=100)
ax_a = fig.add_axes([125 / 843, 65 / 423, 302 / 843, 302 / 423])
ax_b = fig.add_axes([520 / 843, 65 / 423, 303 / 843, 302 / 423])


def trace(ax, pts, color, lw=0.95):
    xs = [p[0] for p in pts]
    ys = [p[1] for p in pts]
    ax.plot(xs, ys, color=color, lw=lw, solid_joinstyle="round")


def column(xs, levels, top):
    return list(zip(xs, levels + [top]))


# panel A
for xs, top in zip(up_a_x, up_a_top):
    trace(ax_a, column(xs, up_levels, top), BLACK)
for pts in left_a + right_a:
    trace(ax_a, pts, BLACK)

# panel B
for pts in green:
    trace(ax_b, pts, GREEN)
for xs, top in zip(red_core_x, red_core_top):
    trace(ax_b, column(xs, red_levels, top), RED)
for pts in red_wide:
    trace(ax_b, pts, RED)
for pts in blue:
    trace(ax_b, pts, BLUE)

shift = ScaledTranslation(0.06, 0, fig.dpi_scale_trans)
for ax in (ax_a, ax_b):
    ax.set_xlim(-15, 15)
    ax.set_ylim(0, 30.2)
    for side in ("top", "right"):
        ax.spines[side].set_visible(False)
    for side in ("left", "bottom"):
        ax.spines[side].set_linewidth(0.8)
    ax.set_xticks(x_ticks)
    ax.set_yticks(y_ticks)
    ax.set_xticklabels([str(v) for v in x_ticks])
    ax.set_yticklabels([str(v) for v in y_ticks])
    ax.tick_params(axis="x", direction="in", length=3, width=0.8, pad=6, labelsize=13.5)
    ax.tick_params(axis="y", direction="out", length=2, width=0.8, pad=4, labelsize=13.5)
    for lbl in ax.get_yticklabels():
        lbl.set_verticalalignment("top")
    for lbl in ax.get_xticklabels():
        lbl.set_transform(lbl.get_transform() + shift)


def put(px, py, s, **kw):
    fig.text(px / 843, 1 - py / 423, s, **kw)


put(99, 20, "A", ha="center", va="center", fontsize=15, fontweight="bold")
put(495, 20, "B", ha="center", va="center", fontsize=15, fontweight="bold")
put(12, 45, "Up (cm)", ha="left", va="center", fontsize=14)
put(10, 366, "Down", ha="left", va="center", fontsize=14)
put(122, 409, "Left", ha="left", va="center", fontsize=14)
put(420, 409, "Right (cm)", ha="right", va="center", fontsize=14)

fig.savefig("out.png", dpi=100)
